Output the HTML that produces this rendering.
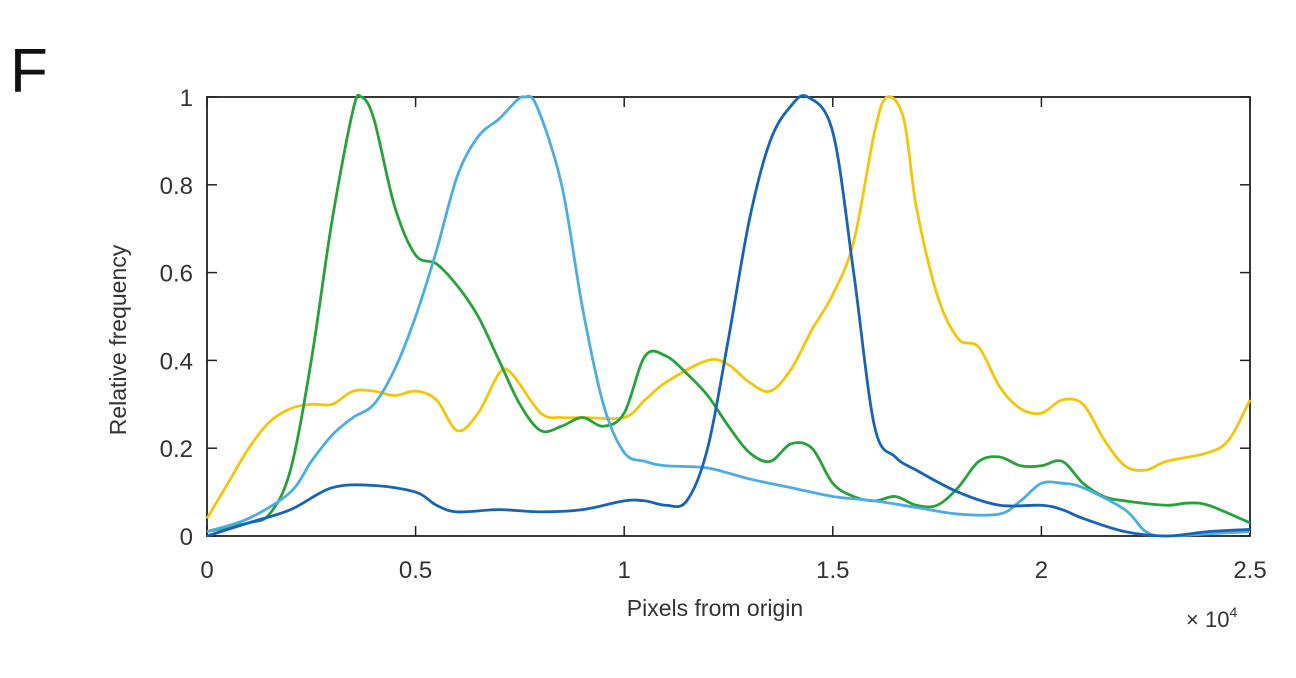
<!DOCTYPE html>
<html><head><meta charset="utf-8"><style>
body{margin:0;background:#fff;font-family:"Liberation Sans",sans-serif}
svg text{font-family:"Liberation Sans",sans-serif;fill:#333}
</style></head><body>
<svg width="1296" height="673" id="c">
<text x="10" y="92" font-size="62" style="fill:#111">F</text>
<text x="715" y="616" font-size="23" text-anchor="middle">Pixels from origin</text>
<text transform="translate(126,340) rotate(-90)" font-size="23" text-anchor="middle">Relative frequency</text>
<text x="1186" y="627" font-size="22">× 10<tspan font-size="14" dy="-10">4</tspan></text>
</svg>
<script>
const xTicks=[0,0.5,1,1.5,2,2.5];
const xTickLabels=["0","0.5","1","1.5","2","2.5"];
const yTicks=[0,0.2,0.4,0.6,0.8,1];
const yTickLabels=["0","0.2","0.4","0.6","0.8","1"];
const greenX=[0,0.1,0.15,0.2,0.25,0.3,0.35,0.37,0.4,0.45,0.5,0.55,0.6,0.65,0.7,0.75,0.8,0.85,0.9,0.95,1.0,1.05,1.1,1.15,1.2,1.25,1.3,1.35,1.4,1.45,1.5,1.55,1.6,1.65,1.7,1.75,1.8,1.85,1.9,1.95,2.0,2.05,2.1,2.15,2.2,2.3,2.35,2.4,2.5];
const greenY=[0.01,0.03,0.05,0.15,0.4,0.72,0.97,1.0,0.95,0.75,0.64,0.62,0.57,0.5,0.4,0.3,0.24,0.25,0.27,0.25,0.28,0.41,0.41,0.37,0.32,0.25,0.19,0.17,0.21,0.2,0.12,0.09,0.08,0.09,0.07,0.07,0.11,0.17,0.18,0.16,0.16,0.17,0.12,0.09,0.08,0.07,0.075,0.07,0.03];
const lightX=[0,0.1,0.2,0.25,0.3,0.35,0.4,0.45,0.5,0.55,0.6,0.65,0.7,0.74,0.76,0.79,0.85,0.9,0.95,1.0,1.05,1.1,1.2,1.3,1.4,1.5,1.6,1.7,1.8,1.9,1.95,2.0,2.05,2.1,2.2,2.25,2.3,2.4,2.5];
const lightY=[0.01,0.04,0.1,0.17,0.23,0.27,0.3,0.38,0.5,0.65,0.82,0.91,0.95,0.99,1.0,0.98,0.8,0.52,0.3,0.19,0.17,0.16,0.155,0.13,0.11,0.09,0.08,0.065,0.05,0.05,0.08,0.12,0.12,0.11,0.06,0.01,0.0,0.005,0.01];
const darkX=[0,0.1,0.2,0.3,0.4,0.5,0.55,0.6,0.7,0.8,0.9,1.0,1.05,1.1,1.15,1.2,1.25,1.3,1.35,1.4,1.44,1.5,1.55,1.6,1.65,1.7,1.8,1.9,2.0,2.05,2.1,2.2,2.3,2.4,2.5];
const darkY=[0.0,0.03,0.06,0.11,0.115,0.1,0.07,0.055,0.06,0.055,0.06,0.08,0.08,0.07,0.08,0.2,0.45,0.72,0.9,0.98,1.0,0.92,0.6,0.25,0.18,0.15,0.1,0.07,0.07,0.06,0.04,0.01,0.0,0.01,0.015];
const yellowX=[0,0.05,0.1,0.15,0.2,0.25,0.3,0.35,0.4,0.45,0.5,0.55,0.6,0.65,0.7,0.73,0.8,0.85,0.9,1.0,1.05,1.1,1.2,1.25,1.3,1.35,1.4,1.45,1.5,1.55,1.6,1.63,1.67,1.7,1.75,1.8,1.85,1.9,1.95,2.0,2.05,2.1,2.15,2.2,2.25,2.3,2.4,2.45,2.5];
const yellowY=[0.04,0.12,0.2,0.26,0.29,0.3,0.3,0.33,0.33,0.32,0.33,0.31,0.24,0.28,0.37,0.37,0.28,0.27,0.27,0.27,0.31,0.35,0.4,0.39,0.35,0.33,0.38,0.47,0.55,0.67,0.92,1.0,0.95,0.75,0.55,0.45,0.43,0.34,0.29,0.28,0.31,0.3,0.22,0.16,0.15,0.17,0.19,0.22,0.31];
const L=207,R=1250,T=97,B=536;
const sx=v=>L+(v/2.5)*(R-L), sy=v=>B-v*(B-T);
const svg=document.getElementById('c'),NS='http://www.w3.org/2000/svg';
function mk(t,a){const e=document.createElementNS(NS,t);for(const k in a)e.setAttribute(k,a[k]);svg.appendChild(e);return e;}
function path(xs,ys){const p=xs.map((x,i)=>[sx(x),sy(ys[i])]);let d='M'+p[0][0]+','+p[0][1];
for(let i=0;i<p.length-1;i++){const a=p[Math.max(0,i-1)],b=p[i],c=p[i+1],e=p[Math.min(p.length-1,i+2)];
d+=' C'+(b[0]+(c[0]-a[0])/6)+','+(b[1]+(c[1]-a[1])/6)+' '+(c[0]-(e[0]-b[0])/6)+','+(c[1]-(e[1]-b[1])/6)+' '+c[0]+','+c[1];}return d;}
const box=mk('rect',{x:L,y:T,width:R-L,height:B-T,fill:'none',stroke:'#222','stroke-width':1.8});


xTicks.forEach((v,i)=>{const x=sx(v);
const t1=mk('line',{x1:x,x2:x,y1:B,y2:B-10,stroke:'#222','stroke-width':1.5});


const t2=mk('line',{x1:x,x2:x,y1:T,y2:T+10,stroke:'#222','stroke-width':1.5});


const tx=mk('text',{x:x,y:B+42,'font-size':24,'text-anchor':'middle'});tx.textContent=xTickLabels[i];

});
yTicks.forEach((v,i)=>{const y=sy(v);
const t1=mk('line',{x1:L,x2:L+10,y1:y,y2:y,stroke:'#222','stroke-width':1.5});


const t2=mk('line',{x1:R,x2:R-10,y1:y,y2:y,stroke:'#222','stroke-width':1.5});


const tx=mk('text',{x:L-14,y:y+9,'font-size':24,'text-anchor':'end'});tx.textContent=yTickLabels[i];

});
[[yellowX,yellowY,'#f4c60a','yellow-series'],[greenX,greenY,'#27a23a','green-series'],[lightX,lightY,'#4caee0','light-blue-series'],[darkX,darkY,'#1763b5','dark-blue-series']].forEach(s=>{
const p=mk('path',{d:path(s[0],s[1]),fill:'none',stroke:s[2],'stroke-width':2.8});

});
</script>
</body></html>
